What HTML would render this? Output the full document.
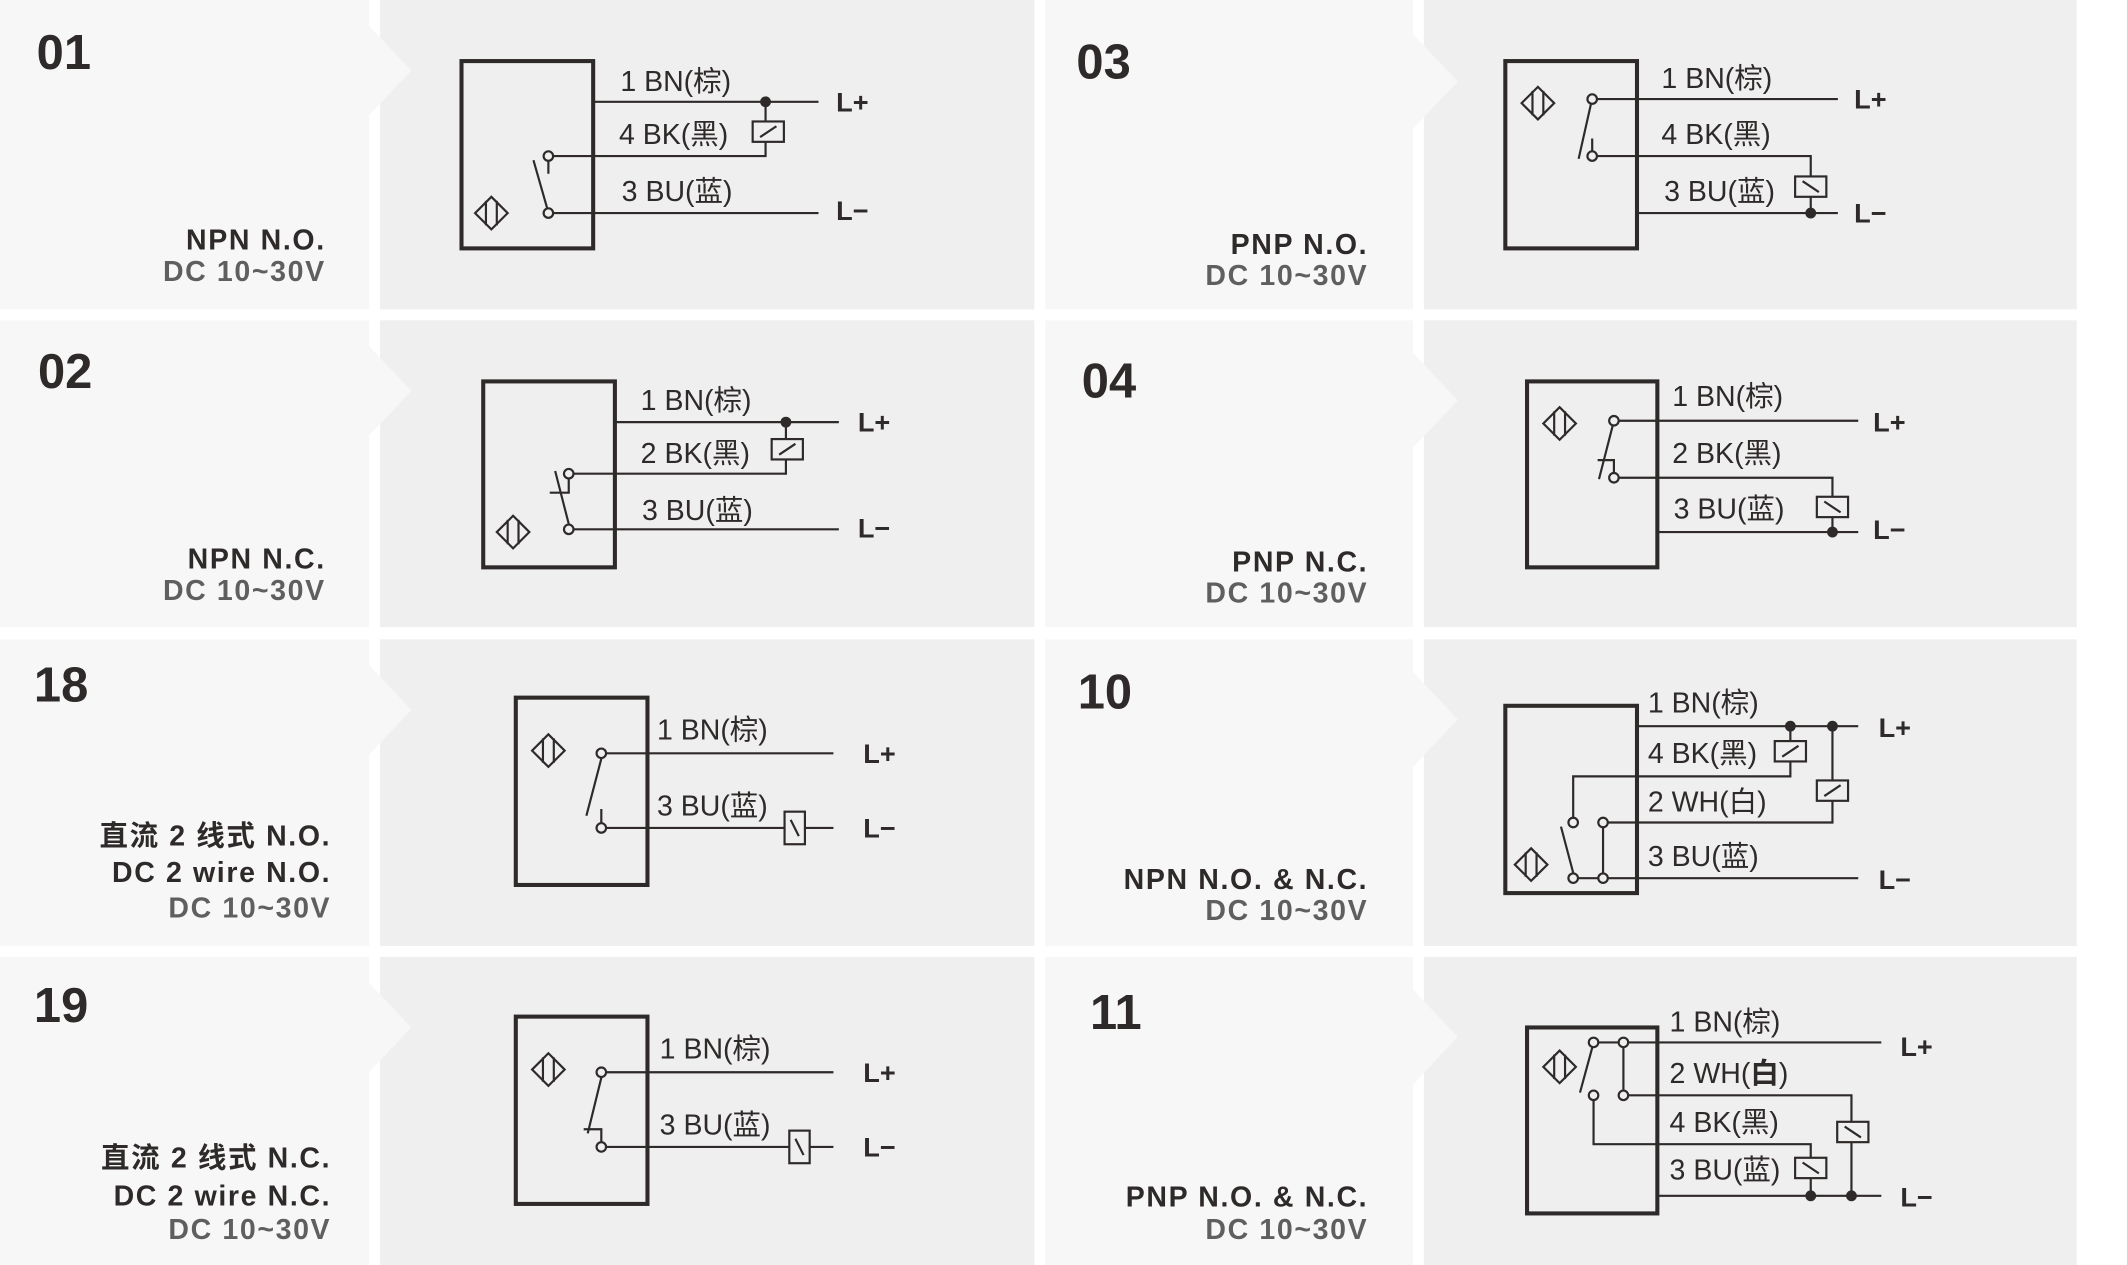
<!DOCTYPE html>
<html><head><meta charset="utf-8"><style>
html,body{margin:0;padding:0;background:#fff}
svg{display:block}
text{font-family:"Liberation Sans","Noto Sans CJK SC",sans-serif;fill:#2e2a29}
.w{font-size:21px}
.lp{font-size:20px;font-weight:bold}
.num{font-size:36px;font-weight:bold}
.t1{font-size:21px;font-weight:bold;letter-spacing:1.2px}
.t2{font-size:21px;font-weight:bold;fill:#5f5f5f;letter-spacing:1.2px}
.s{stroke:#2e2a29;stroke-width:1.6;fill:none}
.b{stroke:#2e2a29;stroke-width:3;fill:none}
.c{stroke:#2e2a29;stroke-width:1.6;fill:#efefef}
.d{fill:#2e2a29}
</style></head><body>
<svg width="2127" height="1265" viewBox="0 0 1567 932" preserveAspectRatio="none" xmlns="http://www.w3.org/2000/svg">
<defs>
<g id="sens"><polygon points="-12,0 0,-12 12,0 0,12" class="s"/><line x1="-4" y1="-9" x2="-4" y2="9" class="s"/><line x1="4" y1="-9" x2="4" y2="9" class="s"/></g>
<g id="ldh"><rect x="-11.5" y="-7.5" width="23" height="15" class="c"/><line x1="-6" y1="4" x2="6" y2="-4" class="s"/></g>
<g id="ldb"><rect x="-11.5" y="-7.5" width="23" height="15" class="c"/><line x1="-6" y1="-4" x2="6" y2="4" class="s"/></g>
<g id="ldv"><rect x="-7.5" y="-12" width="15" height="24" class="c"/><line x1="-3" y1="-6" x2="3" y2="6" class="s"/></g>
</defs>
<g fill="#f7f7f7">
<rect x="0" y="0" width="272" height="228"/><rect x="0" y="236" width="272" height="226"/><rect x="0" y="471" width="272" height="226"/><rect x="0" y="705" width="272" height="227"/>
<rect x="770" y="0" width="271" height="228"/><rect x="770" y="236" width="271" height="226"/><rect x="770" y="471" width="271" height="226"/><rect x="770" y="705" width="271" height="227"/>
</g>
<g fill="#efefef">
<rect x="280" y="0" width="482" height="228"/><rect x="280" y="236" width="482" height="226"/><rect x="280" y="471" width="482" height="226"/><rect x="280" y="705" width="482" height="227"/>
<rect x="1049" y="0" width="481" height="228"/><rect x="1049" y="236" width="481" height="226"/><rect x="1049" y="471" width="481" height="226"/><rect x="1049" y="705" width="481" height="227"/>
</g>
<g fill="#f7f7f7">
<polygon points="270,17 303,52 270,87"/><polygon points="270,253 303,288 270,323"/><polygon points="270,488 303,523 270,558"/><polygon points="270,722 303,757 270,792"/>
<polygon points="1039,23 1074,60 1039,97"/><polygon points="1039,258 1074,295 1039,332"/><polygon points="1039,493 1074,530 1039,567"/><polygon points="1039,727 1074,764 1039,801"/>
</g>

<text class="num" x="27" y="51">01</text>
<text class="t1" x="240" y="184" text-anchor="end">NPN N.O.</text>
<text class="t2" x="240" y="207" text-anchor="end">DC 10~30V</text>
<text class="num" x="28" y="286">02</text>
<text class="t1" x="240" y="419" text-anchor="end">NPN N.C.</text>
<text class="t2" x="240" y="442" text-anchor="end">DC 10~30V</text>
<text class="num" x="25" y="517">18</text>
<text class="t1" x="244" y="623" text-anchor="end">直流 2 线式 N.O.</text>
<text class="t1" x="244" y="650" text-anchor="end">DC 2 wire N.O.</text>
<text class="t2" x="244" y="676" text-anchor="end">DC 10~30V</text>
<text class="num" x="25" y="753">19</text>
<text class="t1" x="244" y="860" text-anchor="end">直流 2 线式 N.C.</text>
<text class="t1" x="244" y="888" text-anchor="end">DC 2 wire N.C.</text>
<text class="t2" x="244" y="913" text-anchor="end">DC 10~30V</text>
<text class="num" x="793" y="58">03</text>
<text class="t1" x="1008" y="187" text-anchor="end">PNP N.O.</text>
<text class="t2" x="1008" y="210" text-anchor="end">DC 10~30V</text>
<text class="num" x="797" y="293">04</text>
<text class="t1" x="1008" y="421" text-anchor="end">PNP N.C.</text>
<text class="t2" x="1008" y="444" text-anchor="end">DC 10~30V</text>
<text class="num" x="794" y="522">10</text>
<text class="t1" x="1008" y="655" text-anchor="end">NPN N.O. &amp; N.C.</text>
<text class="t2" x="1008" y="678" text-anchor="end">DC 10~30V</text>
<text class="num" x="803" y="758">11</text>
<text class="t1" x="1008" y="889" text-anchor="end">PNP N.O. &amp; N.C.</text>
<text class="t2" x="1008" y="913" text-anchor="end">DC 10~30V</text>

<rect x="340" y="45" width="97" height="138" class="b"/>
<use href="#sens" x="362" y="157"/>
<path class="s" d="M437 75H603M564 75V89M564 104V115H407M407 157H603M404 119V128M403 153L393 118"/>
<use href="#ldh" x="566" y="97"/>
<circle cx="564" cy="75" r="4" class="d"/>
<circle cx="404" cy="115" r="3.5" class="c"/><circle cx="404" cy="157" r="3.5" class="c"/>
<text class="w" x="457" y="67">1 BN(棕)</text><text class="w" x="456" y="106">4 BK(黑)</text><text class="w" x="458" y="148">3 BU(蓝)</text>
<text class="lp" x="616" y="82">L+</text><text class="lp" x="616" y="162">L−</text>

<rect x="356" y="281" width="97" height="137" class="b"/>
<use href="#sens" x="378" y="392"/>
<path class="s" d="M453 311H618M579 311V324M579 339V349H422M422 390H618M419 386L409 347M405 363H419V353"/>
<use href="#ldh" x="580" y="331"/>
<circle cx="579" cy="311" r="4" class="d"/>
<circle cx="419" cy="349" r="3.5" class="c"/><circle cx="419" cy="390" r="3.5" class="c"/>
<text class="w" x="472" y="302">1 BN(棕)</text><text class="w" x="472" y="341">2 BK(黑)</text><text class="w" x="473" y="383">3 BU(蓝)</text>
<text class="lp" x="632" y="318">L+</text><text class="lp" x="632" y="396">L−</text>

<rect x="380" y="514" width="97" height="138" class="b"/>
<use href="#sens" x="404" y="553"/>
<path class="s" d="M446 555H614M446 610H578M593 610H614M443 559L432 601M443 596V606"/>
<use href="#ldv" x="585.5" y="610"/>
<circle cx="443" cy="555" r="3.5" class="c"/><circle cx="443" cy="610" r="3.5" class="c"/>
<text class="w" x="484" y="545">1 BN(棕)</text><text class="w" x="484" y="601">3 BU(蓝)</text>
<text class="lp" x="636" y="562">L+</text><text class="lp" x="636" y="617">L−</text>

<rect x="380" y="749" width="97" height="138" class="b"/>
<use href="#sens" x="404" y="788"/>
<path class="s" d="M446 790H614M446 845H581M597 845H614M443 794L433 835M430 832H443V841"/>
<use href="#ldv" x="589" y="845"/>
<circle cx="443" cy="790" r="3.5" class="c"/><circle cx="443" cy="845" r="3.5" class="c"/>
<text class="w" x="486" y="780">1 BN(棕)</text><text class="w" x="486" y="836">3 BU(蓝)</text>
<text class="lp" x="636" y="797">L+</text><text class="lp" x="636" y="852">L−</text>

<rect x="1109" y="45" width="97" height="138" class="b"/>
<use href="#sens" x="1133" y="76"/>
<path class="s" d="M1176 73H1354M1176 115H1334V130M1334 145V157M1206 157H1354M1172 77L1163 117M1173 102V111"/>
<use href="#ldb" x="1334" y="137.5"/>
<circle cx="1334" cy="157" r="4" class="d"/>
<circle cx="1173" cy="73" r="3.5" class="c"/><circle cx="1173" cy="115" r="3.5" class="c"/>
<text class="w" x="1224" y="65">1 BN(棕)</text><text class="w" x="1224" y="106">4 BK(黑)</text><text class="w" x="1226" y="148">3 BU(蓝)</text>
<text class="lp" x="1366" y="80">L+</text><text class="lp" x="1366" y="164">L−</text>

<rect x="1125" y="281" width="96" height="137" class="b"/>
<use href="#sens" x="1149" y="312"/>
<path class="s" d="M1192 310H1369M1192 352H1350V366M1350 381V392M1221 392H1369M1188 314L1178 353M1177 339H1189V348"/>
<use href="#ldb" x="1350" y="373.5"/>
<circle cx="1350" cy="392" r="4" class="d"/>
<circle cx="1189" cy="310" r="3.5" class="c"/><circle cx="1189" cy="352" r="3.5" class="c"/>
<text class="w" x="1232" y="299">1 BN(棕)</text><text class="w" x="1232" y="341">2 BK(黑)</text><text class="w" x="1233" y="382">3 BU(蓝)</text>
<text class="lp" x="1380" y="318">L+</text><text class="lp" x="1380" y="397">L−</text>

<rect x="1109" y="520" width="97" height="138" class="b"/>
<use href="#sens" x="1128" y="637"/>
<path class="s" d="M1206 535H1369M1319 535V546M1319 561V572H1159V602M1350 535V575M1350 590V606H1184M1162 647H1369M1181 610V643M1159 643L1150 609"/>
<use href="#ldh" x="1319" y="553.5"/>
<use href="#ldh" x="1350" y="582.5"/>
<circle cx="1319" cy="535" r="4" class="d"/><circle cx="1350" cy="535" r="4" class="d"/>
<circle cx="1159" cy="606" r="3.5" class="c"/><circle cx="1181" cy="606" r="3.5" class="c"/>
<circle cx="1159" cy="647" r="3.5" class="c"/><circle cx="1181" cy="647" r="3.5" class="c"/>
<text class="w" x="1214" y="525">1 BN(棕)</text><text class="w" x="1214" y="562">4 BK(黑)</text><text class="w" x="1214" y="598">2 WH(白)</text><text class="w" x="1214" y="638">3 BU(蓝)</text>
<text class="lp" x="1384" y="543">L+</text><text class="lp" x="1384" y="655">L−</text>

<rect x="1125" y="757" width="96" height="137" class="b"/>
<use href="#sens" x="1149" y="786"/>
<path class="s" d="M1177 768H1386M1196 772V803M1199 807H1364V827M1364 841V881M1174 811V843H1334V853M1334 868V881M1221 881H1386M1173 772L1164 805"/>
<use href="#ldb" x="1365" y="834"/>
<use href="#ldb" x="1334" y="860.5"/>
<circle cx="1334" cy="881" r="4" class="d"/><circle cx="1364" cy="881" r="4" class="d"/>
<circle cx="1174" cy="768" r="3.5" class="c"/><circle cx="1196" cy="768" r="3.5" class="c"/>
<circle cx="1174" cy="807" r="3.5" class="c"/><circle cx="1196" cy="807" r="3.5" class="c"/>
<text class="w" x="1230" y="760">1 BN(棕)</text><text class="w" x="1230" y="798">2 WH(<tspan font-weight="bold">白</tspan>)</text><text class="w" x="1230" y="834">4 BK(黑)</text><text class="w" x="1230" y="869">3 BU(蓝)</text>
<text class="lp" x="1400" y="778">L+</text><text class="lp" x="1400" y="889">L−</text>
</svg>
</body></html>
